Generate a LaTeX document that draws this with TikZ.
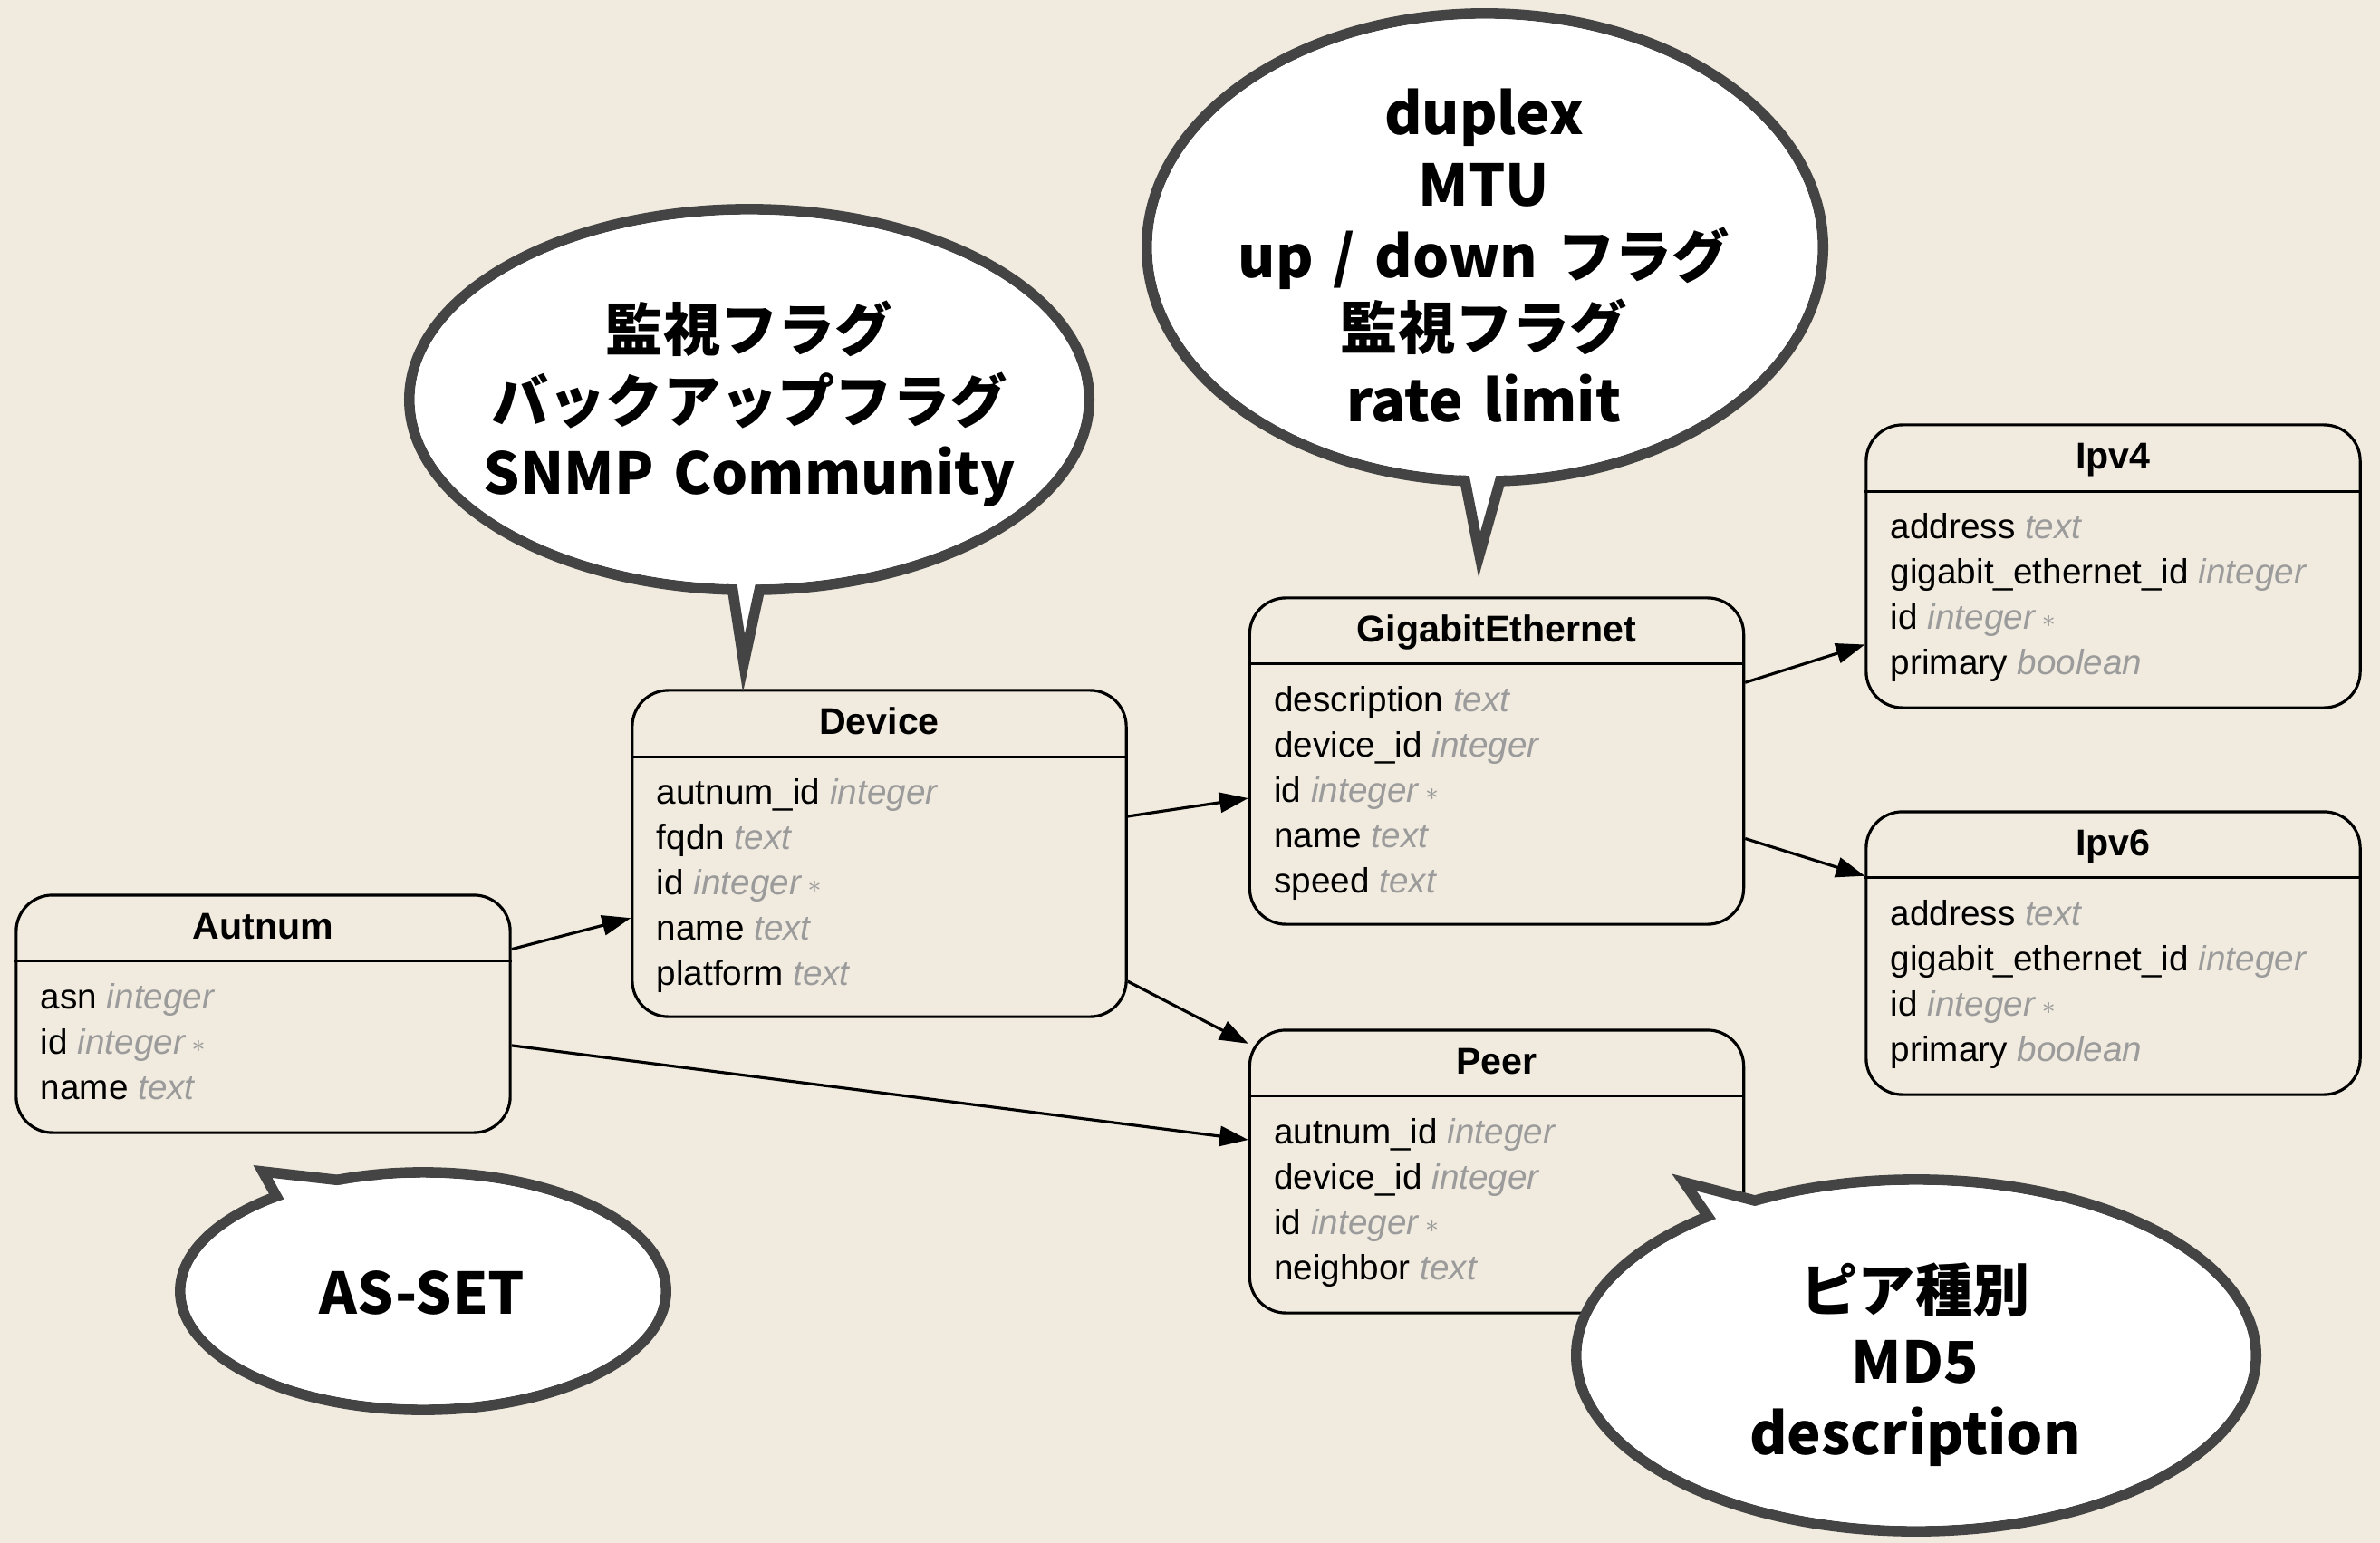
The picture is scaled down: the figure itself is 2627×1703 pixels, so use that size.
\documentclass[tikz,border=0pt]{standalone}
\usepackage{fontspec}
\setmainfont{Liberation Sans}
\newfontfamily\jpfont{Noto Sans CJK JP}[WordSpace=1.5]
\usetikzlibrary{arrows.meta}
\usetikzlibrary{calc}
\definecolor{paper}{RGB}{241,235,223}
\definecolor{typegray}{RGB}{155,155,155}
\definecolor{bubbleline}{RGB}{68,68,68}
\newcommand{\ty}[1]{\textcolor{typegray}{\textit{#1}}}
\newcommand{\pk}{\,\textcolor{typegray}{\raisebox{0.1ex}{\footnotesize$\ast$}}}

\begin{document}
\begin{tikzpicture}[x=0.01cm, y=-0.01cm, line width=0.9pt, >={Triangle[length=0pt 10,width=0pt 7]},
    tbl/.style={draw, rounded corners=0.4cm, minimum width=5.45cm, inner sep=0pt},
    tbltitle/.style={anchor=base, inner sep=0pt, font=\bfseries\fontsize{11.7}{14}\selectfont},
    field/.style={anchor=base west, inner sep=0pt, font=\fontsize{11}{13}\selectfont},
    bubble/.style={draw=bubbleline, line width=3.3pt, fill=white},
    saying/.style={align=center, font=\jpfont\bfseries\fontsize{18}{22.5}\selectfont}]

    \fill[paper] (0,0) rectangle (2627,1703);
    \useasboundingbox (0,0) rectangle (2627,1703);

    % tables
    \node[tbl, minimum height=2.62cm] (autnum) at (290.5,1119) {};
    \node[tbltitle] (autnum-title) at ($(autnum.north)+(0,50)$) {Autnum};
    \draw ($(autnum.north west)+(0,74)$) -- ($(autnum.north east)+(0,74)$);
    \foreach \f [count=\i] in {asn \ty{integer}, id \ty{integer}\pk, name \ty{text}}
        \node[field] (autnum-\i) at ($(autnum.north west)+(27,77+50*\i)$) {\f};

    \node[tbl, minimum height=3.60cm] (device) at (970.5,942) {};
    \node[tbltitle] (device-title) at ($(device.north)+(0,50)$) {Device};
    \draw ($(device.north west)+(0,75)$) -- ($(device.north east)+(0,75)$);
    \foreach \f [count=\i] in {autnum\_id \ty{integer}, fqdn \ty{text}, id \ty{integer}\pk, name \ty{text}, platform \ty{text}}
        \node[field] (device-\i) at ($(device.north west)+(27,77+50*\i)$) {\f};

    \node[tbl, minimum height=3.60cm] (ge) at (1652,840) {};
    \node[tbltitle] (ge-title) at ($(ge.north)+(0,50)$) {GigabitEthernet};
    \draw ($(ge.north west)+(0,74)$) -- ($(ge.north east)+(0,74)$);
    \foreach \f [count=\i] in {description \ty{text}, device\_id \ty{integer}, id \ty{integer}\pk, name \ty{text}, speed \ty{text}}
        \node[field] (ge-\i) at ($(ge.north west)+(27,77+50*\i)$) {\f};

    \node[tbl, minimum height=3.12cm] (ipv4) at (2332.5,625) {};
    \node[tbltitle] (ipv4-title) at ($(ipv4.north)+(0,50)$) {Ipv4};
    \draw ($(ipv4.north west)+(0,75)$) -- ($(ipv4.north east)+(0,75)$);
    \foreach \f [count=\i] in {address \ty{text}, gigabit\_ethernet\_id \ty{integer}, id \ty{integer}\pk, primary \ty{boolean}}
        \node[field] (ipv4-\i) at ($(ipv4.north west)+(27,77+50*\i)$) {\f};

    \node[tbl, minimum height=3.12cm] (ipv6) at (2332.5,1052) {};
    \node[tbltitle] (ipv6-title) at ($(ipv6.north)+(0,50)$) {Ipv6};
    \draw ($(ipv6.north west)+(0,74)$) -- ($(ipv6.north east)+(0,74)$);
    \foreach \f [count=\i] in {address \ty{text}, gigabit\_ethernet\_id \ty{integer}, id \ty{integer}\pk, primary \ty{boolean}}
        \node[field] (ipv6-\i) at ($(ipv6.north west)+(27,77+50*\i)$) {\f};

    \node[tbl, minimum height=3.12cm] (peer) at (1652,1293) {};
    \node[tbltitle] (peer-title) at ($(peer.north)+(0,50)$) {Peer};
    \draw ($(peer.north west)+(0,74)$) -- ($(peer.north east)+(0,74)$);
    \foreach \f [count=\i] in {autnum\_id \ty{integer}, device\_id \ty{integer}, id \ty{integer}\pk, neighbor \ty{text}}
        \node[field] (peer-\i) at ($(peer.north west)+(27,77+50*\i)$) {\f};

    % relations
    \draw[->] (autnum) -- (device);
    \draw[->] (autnum) -- (peer);
    \draw[->] (device) -- (ge);
    \draw[->] (device) -- (peer);
    \draw[->] (ge) -- (ipv4);
    \draw[->] (ge) -- (ipv6);

    % speech bubbles
    \draw[bubble] (827,441) ellipse [x radius=3.75cm, y radius=2.10cm];
    \draw[bubble] (804,620) -- (821,732) -- (845,620);
    \fill[white] (827,441) ellipse [x radius=3.69cm, y radius=2.04cm];
    \node[saying] (device-note) at (827,446) {監視フラグ\\バックアップフラグ\\SNMP Community};

    \draw[bubble] (1639,273) ellipse [x radius=3.73cm, y radius=2.58cm];
    \draw[bubble] (1612,505) -- (1633,612) -- (1663,505);
    \fill[white] (1639,273) ellipse [x radius=3.67cm, y radius=2.52cm];
    \node[saying] (ge-note) at (1638,282) {duplex\\MTU\\up / down フラグ\\監視フラグ\\rate limit};

    \draw[bubble] (467,1425) ellipse [x radius=2.68cm, y radius=1.31cm];
    \draw[bubble] (440,1310) -- (290,1293) -- (327,1360);
    \fill[white] (467,1425) ellipse [x radius=2.62cm, y radius=1.25cm];
    \node[saying] (autnum-note) at (466,1427) {AS-SET};

    \draw[bubble] (2115,1496) ellipse [x radius=3.75cm, y radius=1.94cm];
    \draw[bubble] (2030,1349) -- (1859,1305) -- (1939,1420);
    \fill[white] (2115,1496) ellipse [x radius=3.69cm, y radius=1.88cm];
    \node[saying] (peer-note) at (2114,1506) {ピア種別\\MD5\\description};

\end{tikzpicture}
\end{document}
